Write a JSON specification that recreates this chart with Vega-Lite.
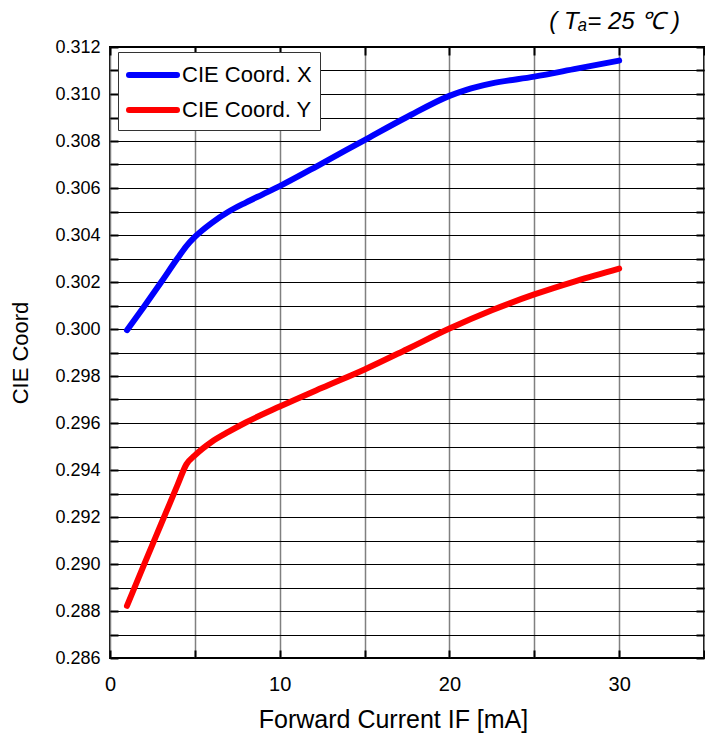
{
  "$schema": "https://vega.github.io/schema/vega-lite/v6.json",
  "width": 594,
  "height": 611,
  "autosize": "none",
  "padding": {"left": 110, "top": 47, "right": 1, "bottom": 80},
  "background": "white",
  "config": {
    "view": {"stroke": "black", "strokeWidth": 2},
    "axis": {"domain": false}
  },
  "title": {
    "text": "( Tₐ= 25 ℃ )",
    "anchor": "end",
    "frame": "group",
    "font": "Liberation Sans",
    "fontStyle": "italic",
    "fontWeight": "normal",
    "fontSize": 24,
    "color": "black",
    "offset": 4,
    "dx": -24
  },
  "datasets": {
    "d": [
      {"current": 1, "coord": 0.29995, "series": "CIE Coord. X"},
      {"current": 2, "coord": 0.30095, "series": "CIE Coord. X"},
      {"current": 3, "coord": 0.30198, "series": "CIE Coord. X"},
      {"current": 4, "coord": 0.30303, "series": "CIE Coord. X"},
      {"current": 4.5, "coord": 0.30353, "series": "CIE Coord. X"},
      {"current": 5, "coord": 0.30392, "series": "CIE Coord. X"},
      {"current": 6, "coord": 0.30452, "series": "CIE Coord. X"},
      {"current": 7, "coord": 0.305, "series": "CIE Coord. X"},
      {"current": 8, "coord": 0.30538, "series": "CIE Coord. X"},
      {"current": 9, "coord": 0.30573, "series": "CIE Coord. X"},
      {"current": 10, "coord": 0.30608, "series": "CIE Coord. X"},
      {"current": 12.5, "coord": 0.30705, "series": "CIE Coord. X"},
      {"current": 15, "coord": 0.30804, "series": "CIE Coord. X"},
      {"current": 17.5, "coord": 0.30902, "series": "CIE Coord. X"},
      {"current": 20, "coord": 0.30992, "series": "CIE Coord. X"},
      {"current": 21, "coord": 0.31018, "series": "CIE Coord. X"},
      {"current": 22.5, "coord": 0.31045, "series": "CIE Coord. X"},
      {"current": 25, "coord": 0.31074, "series": "CIE Coord. X"},
      {"current": 27.5, "coord": 0.31108, "series": "CIE Coord. X"},
      {"current": 30, "coord": 0.31142, "series": "CIE Coord. X"},
      {"current": 1, "coord": 0.28822, "series": "CIE Coord. Y"},
      {"current": 2, "coord": 0.28996, "series": "CIE Coord. Y"},
      {"current": 3, "coord": 0.29168, "series": "CIE Coord. Y"},
      {"current": 3.5, "coord": 0.29254, "series": "CIE Coord. Y"},
      {"current": 4, "coord": 0.2934, "series": "CIE Coord. Y"},
      {"current": 4.5, "coord": 0.29424, "series": "CIE Coord. Y"},
      {"current": 5, "coord": 0.29462, "series": "CIE Coord. Y"},
      {"current": 6, "coord": 0.2952, "series": "CIE Coord. Y"},
      {"current": 7, "coord": 0.29563, "series": "CIE Coord. Y"},
      {"current": 8, "coord": 0.29602, "series": "CIE Coord. Y"},
      {"current": 10, "coord": 0.2967, "series": "CIE Coord. Y"},
      {"current": 12.5, "coord": 0.2975, "series": "CIE Coord. Y"},
      {"current": 15, "coord": 0.29828, "series": "CIE Coord. Y"},
      {"current": 17.5, "coord": 0.29914, "series": "CIE Coord. Y"},
      {"current": 20, "coord": 0.30002, "series": "CIE Coord. Y"},
      {"current": 22.5, "coord": 0.3008, "series": "CIE Coord. Y"},
      {"current": 25, "coord": 0.30147, "series": "CIE Coord. Y"},
      {"current": 27.5, "coord": 0.30205, "series": "CIE Coord. Y"},
      {"current": 30, "coord": 0.30257, "series": "CIE Coord. Y"}
    ]
  },
  "data": {"name": "d"},
  "resolve": {"axis": {"x": "independent", "y": "independent"}},
  "layer": [
    {
      "mark": {"type": "line", "opacity": 0},
      "encoding": {
        "x": {
          "field": "current", "type": "quantitative",
          "scale": {"domain": [0, 35], "nice": false, "zero": false},
          "axis": {
            "orient": "top", "values": [0, 5, 10, 15, 20, 25, 30, 35],
            "labels": false, "grid": false, "title": null,
            "ticks": true, "tickSize": -8, "tickWidth": 2, "tickColor": "black"
          }
        },
        "y": {
          "field": "coord", "type": "quantitative",
          "scale": {"domain": [0.286, 0.312], "nice": false, "zero": false},
          "axis": {
            "orient": "right",
            "values": [0.286, 0.287, 0.288, 0.289, 0.29, 0.291, 0.292, 0.293, 0.294, 0.295, 0.296, 0.297, 0.298, 0.299, 0.3, 0.301, 0.302, 0.303, 0.304, 0.305, 0.306, 0.307, 0.308, 0.309, 0.31, 0.311, 0.312],
            "labels": false, "grid": false, "title": null,
            "ticks": true, "tickSize": -8, "tickWidth": 2, "tickColor": "black"
          }
        },
        "detail": {"field": "series"}
      }
    },
    {
      "mark": {"type": "line", "strokeWidth": 6, "strokeCap": "round", "strokeJoin": "round", "interpolate": "monotone"},
      "encoding": {
        "x": {
          "field": "current", "type": "quantitative",
          "scale": {"domain": [0, 35], "nice": false, "zero": false},
          "axis": {
            "orient": "bottom",
            "values": [0, 5, 10, 15, 20, 25, 30, 35],
            "labelExpr": "datum.value % 10 == 0 ? datum.label : ''",
            "grid": true, "gridColor": "#808080", "gridWidth": 1.5, "gridOpacity": 1,
            "ticks": true, "tickSize": -8, "tickWidth": 2, "tickColor": "black",
            "labelFont": "Liberation Sans",
            "labelFontSize": 20, "labelColor": "black", "labelPadding": 24,
            "labelFlush": false,
            "title": "Forward Current  IF [mA]",
            "titleFont": "Liberation Sans", "titleFontSize": 25, "titleFontWeight": "normal",
            "titleColor": "black", "titlePadding": 13,
            "titleX": 283, "titleAlign": "center"
          }
        },
        "y": {
          "field": "coord", "type": "quantitative",
          "scale": {"domain": [0.286, 0.312], "nice": false, "zero": false},
          "axis": {
            "orient": "left",
            "values": [0.286, 0.287, 0.288, 0.289, 0.29, 0.291, 0.292, 0.293, 0.294, 0.295, 0.296, 0.297, 0.298, 0.299, 0.3, 0.301, 0.302, 0.303, 0.304, 0.305, 0.306, 0.307, 0.308, 0.309, 0.31, 0.311, 0.312],
            "labelExpr": "round(datum.value * 1000) % 2 == 0 ? format(datum.value, '.3f') : ''",
            "grid": true, "gridColor": "black", "gridWidth": 1.2, "gridOpacity": 1,
            "ticks": true, "tickSize": -8, "tickWidth": 2, "tickColor": "black",
            "labelFont": "Liberation Sans",
            "labelFontSize": 18, "labelColor": "black", "labelPadding": 18,
            "labelFlush": false,
            "title": "CIE Coord",
            "titleFont": "Liberation Sans", "titleFontSize": 22, "titleFontWeight": "normal",
            "titleColor": "black", "titlePadding": 22
          }
        },
        "color": {
          "field": "series", "type": "nominal",
          "scale": {"domain": ["CIE Coord. X", "CIE Coord. Y"], "range": ["#0000ff", "#ff0000"]},
          "legend": {
            "title": null,
            "orient": "none",
            "legendX": 8,
            "legendY": 5,
            "padding": 8,
            "fillColor": "white",
            "strokeColor": "#333333",
            "symbolType": "M-1,0H3",
            "symbolSize": 576,
            "symbolStrokeWidth": 6,
            "labelFont": "Liberation Sans",
            "labelFontSize": 22,
            "labelLimit": 400,
            "labelColor": "black",
            "labelOffset": 26,
            "rowPadding": 8,
            "encode": {"symbols": {"update": {"strokeCap": {"value": "round"}}}}
          }
        }
      }
    }
  ]
}
